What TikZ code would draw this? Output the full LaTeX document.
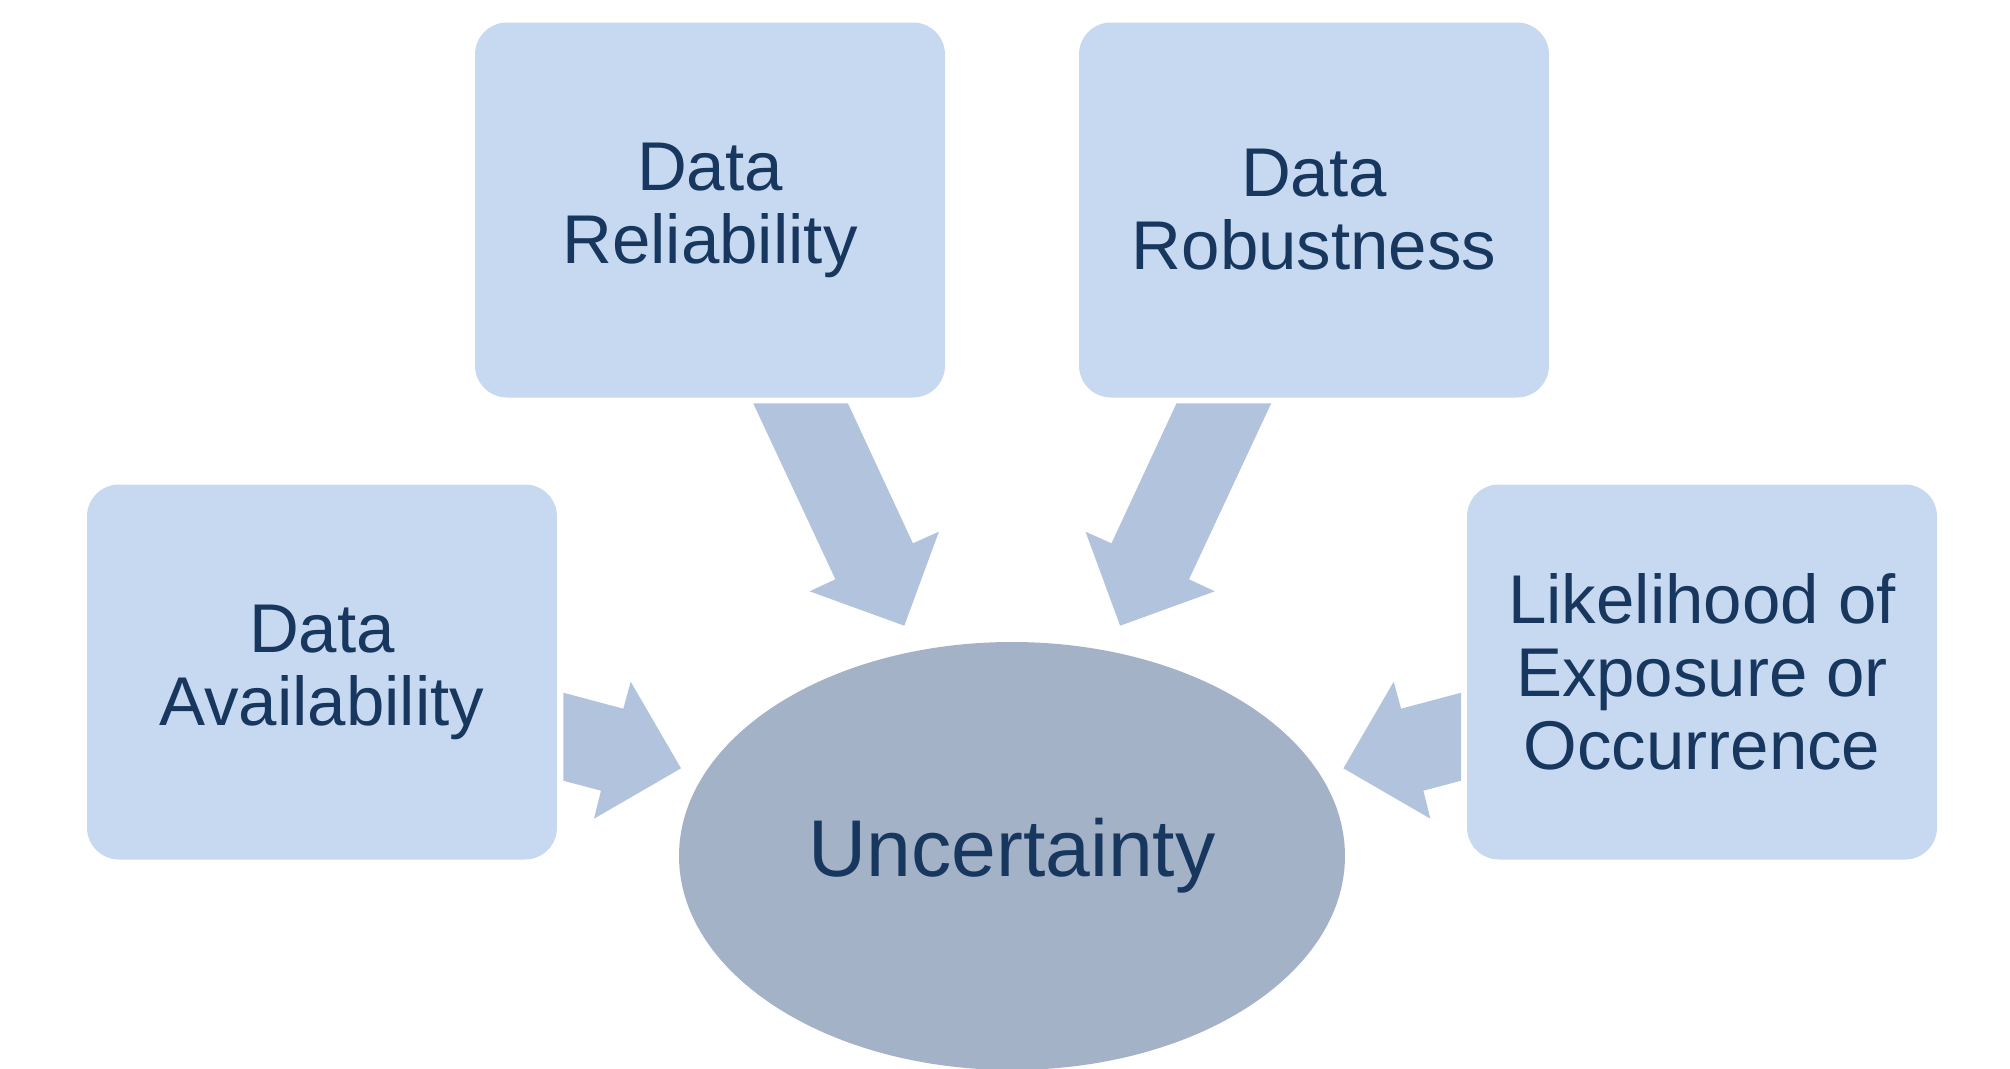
\documentclass[tikz,border=0pt]{standalone}
\usepackage{fontspec}
\setmainfont{Liberation Sans}
\usetikzlibrary{shapes.geometric, positioning}
\definecolor{boxblue}{HTML}{C6D9F1}
\definecolor{arrowblue}{HTML}{B1C3DD}
\definecolor{ovalblue}{HTML}{A4B2C8}
\definecolor{textblue}{HTML}{17375E}

\begin{document}
\begin{tikzpicture}[x=1pt, y=-1pt,
	factor/.style={rectangle, rounded corners=32pt, fill=boxblue, minimum width=470pt, minimum height=375pt, inner sep=0pt, align=center, text=textblue, font=\fontsize{69}{73}\selectfont},
	outcome/.style={ellipse, fill=ovalblue, minimum width=666pt, minimum height=428pt, inner sep=0pt, text=textblue, font=\fontsize{80.5}{86}\selectfont},
	blockarrow/.style={fill=arrowblue}]
	     \useasboundingbox (0,0) rectangle (2010,1068);
	     %
             \node[outcome] (unc) at (1012,856) {Uncertainty};
             \node[factor] (rel) at (710,210) {Data\\Reliability};
             \node[factor] (rob) at (1314,210) {Data\\Robustness};
             \node[factor] (avail) at (322,672) {Data\\Availability};
             \node[factor] (like) at (1702,672) {Likelihood of\\Exposure or\\Occurrence};
             %
             % block arrows pointing into the oval
             \fill[blockarrow] (753.2,403.3) -- (847.9,403.3) -- (912.9,543.3) -- (938.9,531.7) -- (904.3,625.7) -- (809.6,591.3) -- (835.4,579.3) -- cycle;
             \fill[blockarrow] (1271.2,403.3) -- (1176.5,403.3) -- (1111.5,543.3) -- (1085.5,531.7) -- (1120.1,625.7) -- (1214.8,591.3) -- (1189,579.3) -- cycle;
             \fill[blockarrow] (563.3,692.7) -- (623.3,708.7) -- (630.7,681.7) -- (681,768.3) -- (594,818.7) -- (601,790.7) -- (563.3,780.7) -- cycle;
             \fill[blockarrow] (1461.1,692.7) -- (1401.1,708.7) -- (1393.7,681.7) -- (1343.4,768.3) -- (1430.4,818.7) -- (1423.4,790.7) -- (1461.1,780.7) -- cycle;
          \end{tikzpicture}
\end{document}
